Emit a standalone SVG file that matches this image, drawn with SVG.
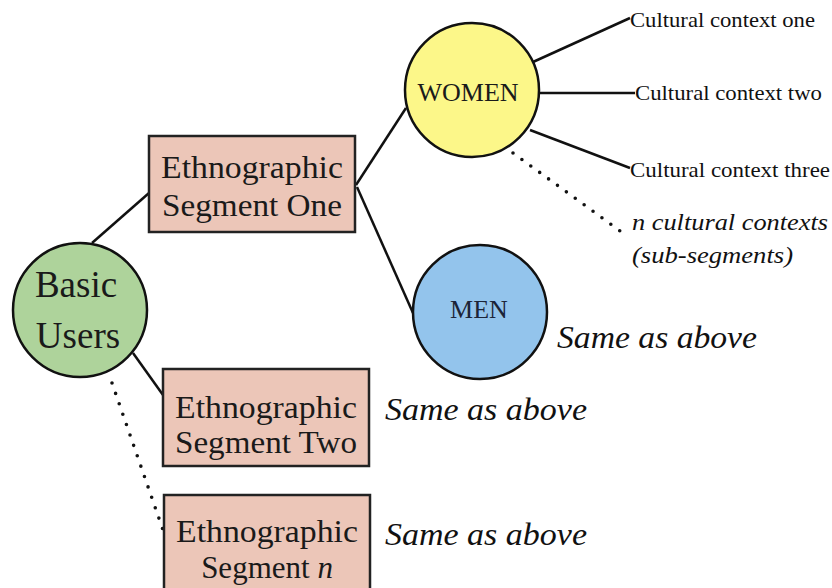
<svg xmlns="http://www.w3.org/2000/svg" width="832" height="588" viewBox="0 0 832 588">
<style>
.ln{stroke:#111;stroke-width:2.5;fill:none}
.dot{stroke:#111;stroke-width:3.6;stroke-linecap:round;stroke-dasharray:0 11;fill:none}
.box{fill:#ecc6b8;stroke:#222;stroke-width:2.5}
.circ{stroke:#111;stroke-width:2.5}
.bt{font-family:"Liberation Serif",serif;font-size:31px;fill:#1a1a1a;text-anchor:middle}
.ct{font-family:"Liberation Serif",serif;font-size:21px;fill:#111}
.it{font-family:"Liberation Serif",serif;font-style:italic;fill:#111}
</style>
<rect width="832" height="588" fill="#ffffff"/>
<g id="connectors">
<line class="ln" x1="92" y1="243" x2="149" y2="193"/>
<line class="ln" x1="133" y1="353" x2="163" y2="395"/>
<line class="dot" x1="112" y1="383" x2="163" y2="530"/>
<line class="ln" x1="356" y1="185" x2="406" y2="108"/>
<line class="ln" x1="357" y1="187" x2="413" y2="313"/>
<line class="ln" x1="533" y1="62" x2="630" y2="18"/>
<line class="ln" x1="539" y1="93" x2="635" y2="93"/>
<line class="ln" x1="530" y1="130" x2="630" y2="168"/>
<line class="dot" x1="513" y1="153" x2="627" y2="236"/>
</g>
<g id="basic-users">
<circle class="circ" cx="80" cy="310" r="67" fill="#aed39b"/>
<text class="bt" style="font-size:37px" x="76" y="297">Basic</text>
<text class="bt" style="font-size:37px" x="78" y="348">Users</text>
</g>
<g id="segment-one">
<rect class="box" x="149" y="136" width="206" height="96"/>
<text class="bt" x="252" y="178" textLength="182" lengthAdjust="spacingAndGlyphs">Ethnographic</text>
<text class="bt" x="252" y="216" textLength="180" lengthAdjust="spacingAndGlyphs">Segment One</text>
</g>
<g id="segment-two">
<rect class="box" x="163" y="369" width="206" height="97"/>
<text class="bt" x="266" y="418" textLength="182" lengthAdjust="spacingAndGlyphs">Ethnographic</text>
<text class="bt" x="266" y="453" textLength="182" lengthAdjust="spacingAndGlyphs">Segment Two</text>
<text class="it" x="385" y="420" font-size="31" textLength="202" lengthAdjust="spacingAndGlyphs">Same as above</text>
</g>
<g id="segment-n">
<rect class="box" x="164" y="495" width="206" height="100"/>
<text class="bt" x="267" y="542" textLength="182" lengthAdjust="spacingAndGlyphs">Ethnographic</text>
<text class="bt" x="267" y="578">Segment <tspan font-style="italic">n</tspan></text>
<text class="it" x="385" y="545" font-size="31" textLength="202" lengthAdjust="spacingAndGlyphs">Same as above</text>
</g>
<g id="women">
<circle class="circ" cx="472" cy="90" r="67" fill="#fcf789"/>
<text class="bt" style="font-size:26px" x="468" y="101">WOMEN</text>
</g>
<g id="men">
<circle class="circ" cx="480" cy="312" r="67" fill="#93c4ec"/>
<text class="bt" style="font-size:26px;fill:#1c2438" x="479" y="318">MEN</text>
<text class="it" x="557" y="348" font-size="31" textLength="200" lengthAdjust="spacingAndGlyphs">Same as above</text>
</g>
<g id="cultural-contexts">
<text class="ct" x="630" y="27" textLength="185" lengthAdjust="spacingAndGlyphs">Cultural context one</text>
<text class="ct" x="635" y="100" textLength="187" lengthAdjust="spacingAndGlyphs">Cultural context two</text>
<text class="ct" x="630" y="177" textLength="200" lengthAdjust="spacingAndGlyphs">Cultural context three</text>
<text class="it" x="632" y="230" font-size="24" textLength="196" lengthAdjust="spacingAndGlyphs">n cultural contexts</text>
<text class="it" x="632" y="263" font-size="24" textLength="161" lengthAdjust="spacingAndGlyphs">(sub-segments)</text>
</g>
</svg>
